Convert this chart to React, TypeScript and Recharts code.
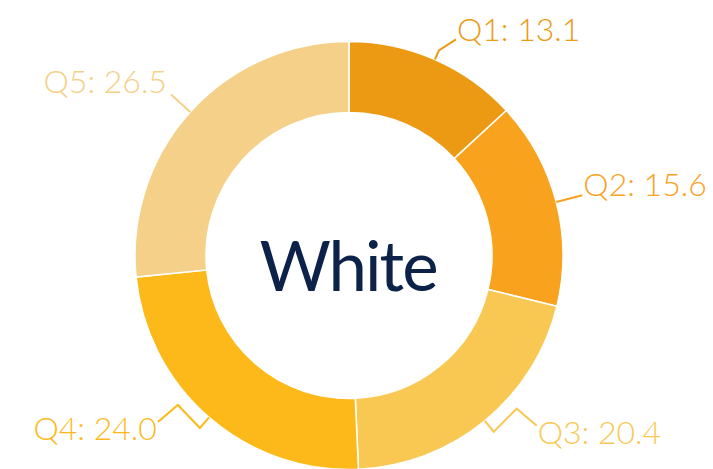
import React from "react";
import { PieChart, Pie, Cell } from "recharts";

const categories = ["Q1", "Q2", "Q3", "Q4", "Q5"];
const values = [13.1, 15.6, 20.4, 24.0, 26.5];
const centerLabel = "White";

const colors = ["#EC9A13", "#F9A21E", "#F9C852", "#FDB91A", "#F4D088"];

// label styling: radial extension, extra bend offsets, text offset, anchor
const labelGeom = [
  { ext: 10, bends: [[17, -11]], text: [1, 2], anchor: "start" },
  { ext: 27, bends: [], text: [1, 1], anchor: "start" },
  { ext: 14, bends: [[23, -23], [20, 17]], text: [1, 18], anchor: "start" },
  { ext: 14, bends: [[-22, -23], [-20, 17]], text: [-1, 18], anchor: "end" },
  { ext: 26, bends: [], text: [-4, -2], anchor: "end" },
];

const data = categories.map((c, i) => ({ name: c, value: values[i] }));

const RAD = Math.PI / 180;
const FONT = "Lato, 'Open Sans', sans-serif";

const renderLabel = (props: any) => {
  const { cx, cy, midAngle, outerRadius, index, value, name } = props;
  const g = labelGeom[index];
  const color = colors[index];
  const cos = Math.cos(-midAngle * RAD);
  const sin = Math.sin(-midAngle * RAD);
  const p0: [number, number] = [cx + outerRadius * cos, cy + outerRadius * sin];
  const p1: [number, number] = [cx + (outerRadius + g.ext) * cos, cy + (outerRadius + g.ext) * sin];
  const pts: [number, number][] = [p0, p1];
  let last = p1;
  g.bends.forEach((b) => {
    last = [last[0] + b[0], last[1] + b[1]];
    pts.push(last);
  });
  const tx = last[0] + g.text[0];
  const ty = last[1] + g.text[1];
  return (
    <g key={`lbl-${index}`}>
      <polyline
        points={pts.map((p) => p.join(",")).join(" ")}
        fill="none"
        stroke={color}
        strokeWidth={2}
      />
      <text
        x={tx}
        y={ty}
        textAnchor={g.anchor}
        fill={color}
        fontFamily={FONT}
        fontSize={32}
        fontWeight={300}
      >
        {`${name}: ${Number(value).toFixed(1)}`}
      </text>
    </g>
  );
};

export default function App() {
  const cx = 336;
  const cy = 242.5;
  return (
    <PieChart width={705} height={461}>
      <Pie
        data={data}
        dataKey="value"
        nameKey="name"
        cx={cx}
        cy={cy}
        innerRadius={143}
        outerRadius={214}
        startAngle={90}
        endAngle={-270}
        stroke="#ffffff"
        strokeWidth={1.5}
        isAnimationActive={false}
        labelLine={false}
        label={renderLabel}
      >
        {data.map((d, i) => (
          <Cell key={d.name} fill={colors[i]} />
        ))}
      </Pie>
      <text
        x={cx + 4}
        y={cy + 5 + 35}
        textAnchor="middle"
        fill="#0C2248"
        fontFamily={FONT}
        fontSize={69}
        letterSpacing={-2}
      >
        {centerLabel}
      </text>
    </PieChart>
  );
}
